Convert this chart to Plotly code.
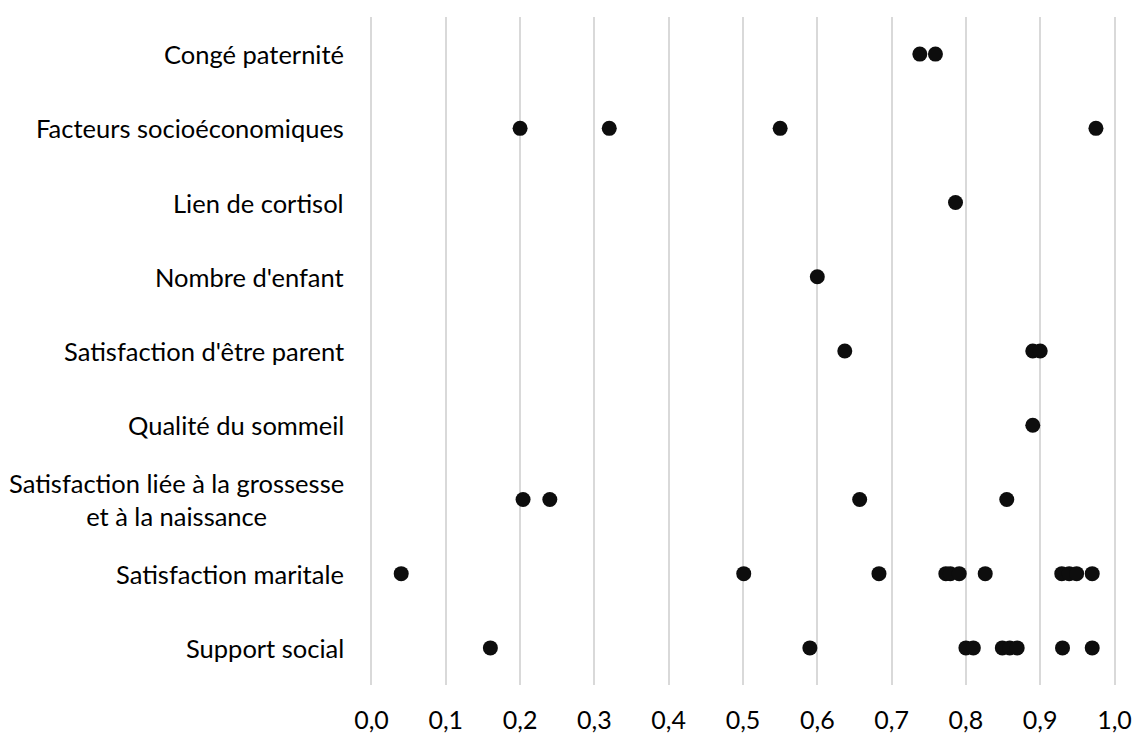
import plotly.graph_objects as go

categories = [
    "Congé paternité",
    "Facteurs socioéconomiques",
    "Lien de cortisol",
    "Nombre d'enfant",
    "Satisfaction d'être parent",
    "Qualité du sommeil",
    "Satisfaction liée à la grossesse<br>et à la naissance",
    "Satisfaction maritale",
    "Support social",
]

conge_paternite = [0.738, 0.759]
facteurs_socio = [0.200, 0.320, 0.550, 0.975]
lien_cortisol = [0.786]
nombre_enfant = [0.600]
satisfaction_parent = [0.637, 0.890, 0.900]
qualite_sommeil = [0.890]
satisfaction_grossesse = [0.204, 0.240, 0.657, 0.855]
satisfaction_maritale = [0.040, 0.501, 0.683, 0.773, 0.779, 0.791, 0.826,
                         0.929, 0.939, 0.949, 0.970]
support_social = [0.160, 0.590, 0.800, 0.810, 0.849, 0.859, 0.869, 0.930, 0.970]

series = [conge_paternite, facteurs_socio, lien_cortisol, nombre_enfant,
          satisfaction_parent, qualite_sommeil, satisfaction_grossesse,
          satisfaction_maritale, support_social]

x_ticks = [i / 10 for i in range(11)]

xs, ys = [], []
for cat, vals in zip(categories, series):
    for v in vals:
        xs.append(v)
        ys.append(cat)

FONT = "Lato, Open Sans, sans-serif"

fig = go.Figure()
fig.add_trace(go.Scatter(
    x=xs, y=ys, mode="markers",
    marker=dict(size=15, color="#0d0d0d", line=dict(width=0)),
    showlegend=False, hoverinfo="x+y",
))

for cat in categories:
    fig.add_annotation(
        x=0, xref="paper", xanchor="right", xshift=-24,
        y=cat, yref="y", yanchor="middle",
        text=cat, showarrow=False, align="center",
        font=dict(family=FONT, size=25.5, color="#000000"),
    )

fig.update_layout(
    width=1134, height=733,
    margin=dict(l=370, r=18, t=17, b=48, autoexpand=False),
    paper_bgcolor="white", plot_bgcolor="white",
    separators=", ",
    font=dict(family=FONT, size=25, color="#000000"),
)
fig.update_xaxes(
    range=[-0.002, 1.002], tickvals=x_ticks, tickformat=".1f",
    showgrid=True, gridcolor="#d9d9d9", gridwidth=1.5,
    zeroline=False, showline=False, ticks="", automargin=False,
    tickfont=dict(size=25), ticklabelstandoff=18,
)
fig.update_yaxes(
    type="category", categoryorder="array", categoryarray=categories,
    range=[len(categories) - 0.5, -0.5],
    showgrid=False, zeroline=False, showline=False,
    showticklabels=False, ticks="", automargin=False,
)

fig.write_html(
    "out.html",
    config={"displayModeBar": False},
    post_script="document.body.style.margin='0';document.body.style.overflow='hidden';",
)
